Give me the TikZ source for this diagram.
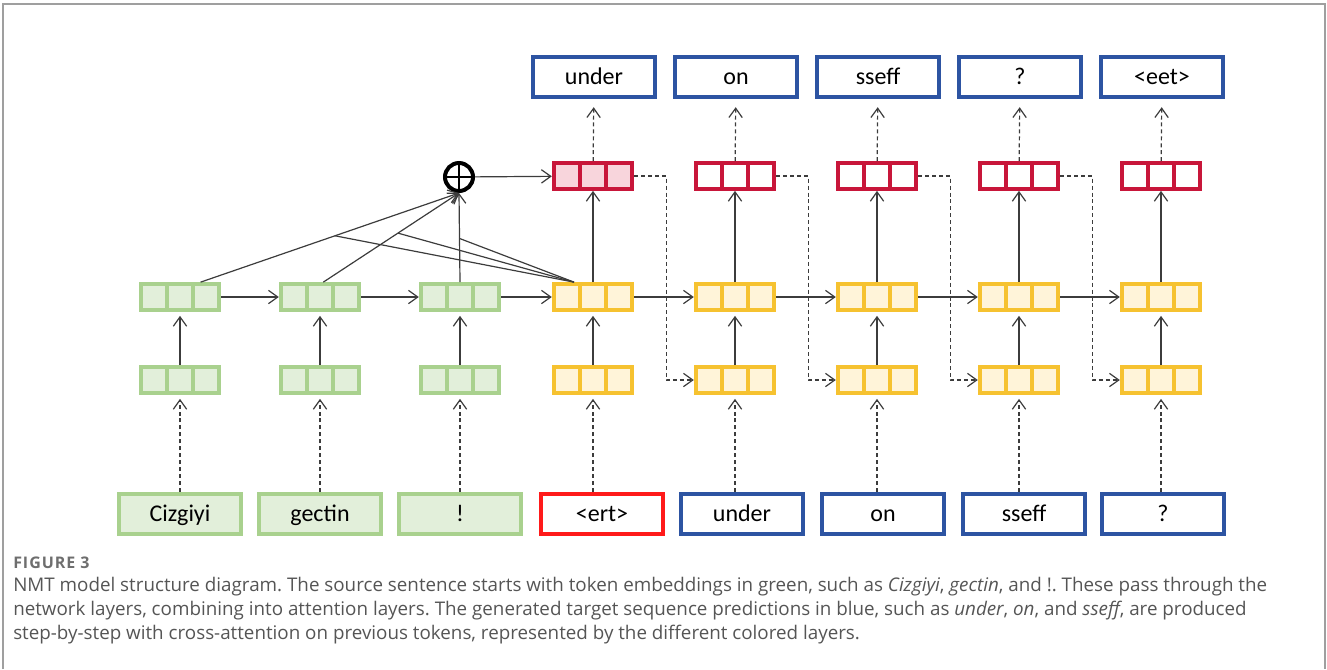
\documentclass[tikz,border=0pt]{standalone}
\usepackage{fontspec}
\setmainfont{Carlito}
\newfontfamily\capfont{Open Sans}
\newfontfamily\figfont[LetterSpace=6]{Open Sans}
\usetikzlibrary{arrows.meta,calc}

\definecolor{encgreen}{HTML}{A9D18E}
\definecolor{encfill}{HTML}{E2EFDA}
\definecolor{decgold}{HTML}{F6C230}
\definecolor{decfill}{HTML}{FFF4D9}
\definecolor{attred}{HTML}{C8163A}
\definecolor{attfill}{HTML}{F8D5DC}
\definecolor{outblue}{HTML}{2D54A2}
\definecolor{startred}{HTML}{FF1A1A}
\definecolor{linegray}{HTML}{3C3C3C}
\definecolor{capgray}{HTML}{555555}

\frenchspacing
\tikzset{
  >={Straight Barb[length=7pt,width=10pt]},
  cells/.style={path picture={
    \foreach \k in {1,2}
      \draw[#1, line width=2.6pt]
        ($(path picture bounding box.south west)!\k/3!(path picture bounding box.south east)$) --
        ($(path picture bounding box.north west)!\k/3!(path picture bounding box.north east)$);}},
  layer/.style={draw=#1, line width=2.8pt, minimum width=59pt, minimum height=19.5pt, inner sep=0pt, cells=#1},
  enc/.style={layer=encgreen, fill=encfill},
  dec/.style={layer=decgold, fill=decfill},
  att/.style={layer=attred},
  tok/.style={draw, line width=2.8pt, minimum width=92pt, minimum height=30.5pt, inner sep=0pt,
    text height=12pt, text depth=1.5pt, font=\fontsize{18}{20}\selectfont},
  src/.style={tok, draw=encgreen, fill=encfill},
  tgt/.style={tok, draw=outblue, fill=white},
  sum/.style={draw, circle, line width=3pt, minimum size=21pt, inner sep=0pt, path picture={
    \draw[line width=0.8pt] (path picture bounding box.north) -- (path picture bounding box.south)
      (path picture bounding box.west) -- (path picture bounding box.east);}},
  link/.style={->, draw=linegray, line width=0.9pt},
  hop/.style={link, dash pattern=on 3pt off 2.2pt},
  capline/.style={anchor=base west, inner sep=0pt, text=capgray, font=\capfont\fontsize{14.1}{17}\selectfont}
}

\begin{document}
\begin{tikzpicture}[x=0.75pt, y=-0.75pt]
\useasboundingbox (0,0) rectangle (1327,669);
\draw[gray!75, line width=1pt] (3,669) -- (3,4) -- (1325,4) -- (1325,669);

% source side
\foreach \i/\x/\w in {1/180/Cizgiyi, 2/320/gectin, 3/460/!} {
  \node[src] (in\i) at (\x,514) {\w};
  \node[enc] (emb\i) at (\x,380) {};
  \node[enc] (enc\i) at (\x,297) {};
  \draw[hop, shorten >=3pt] (in\i) -- (emb\i);
  \draw[link, shorten >=3pt] (emb\i) -- (enc\i);
}
\draw[link] (enc1) -- (enc2);
\draw[link] (enc2) -- (enc3);

% target side
\node[tok, draw=startred] (in4) at (602,514) {<ert>};
\foreach \i/\x/\w in {5/742/under, 6/883/on, 7/1024/sseff, 8/1163/?}
  \node[tgt] (in\i) at (\x,514) {\w};

\foreach \i/\j/\x/\w/\f in {1/4/593/under/attfill, 2/5/735/on/white, 3/6/877/sseff/white, 4/7/1019/?/white, 5/8/1161/<eet>/white} {
  \node[dec] (demb\i) at (\x,380) {};
  \node[dec] (dec\i) at (\x,297) {};
  \node[att, fill=\f] (att\i) at (\x,176) {};
  \node[tgt] (out\i) at (\x+1,77) {\w};
  \draw[hop, shorten >=3pt] (in\j.north -| demb\i) -- (demb\i);
  \draw[link, shorten >=3pt] (demb\i) -- (dec\i);
  \draw[link] (dec\i) -- (att\i);
  \draw[hop, shorten >=6pt] (att\i) -- (out\i);
}
\draw[link] (enc3) -- (dec1);
\foreach \i [count=\j from 2] in {1,...,4} {
  \draw[link] (dec\i) -- (dec\j);
  \draw[hop] (att\i.east) -- ++(32,0) |- (demb\j.west);
}

% attention
\node[sum] (plus) at (459,177) {};
\coordinate (a1) at ($(enc1.north)!0.5!(enc1.north east)$);
\coordinate (a2) at ($(enc2.north)!0.08!(enc2.north east)$);
\coordinate (a3) at (enc3.north);
\coordinate (q) at ($(dec1.north west)!0.27!(dec1.north east)$);
\foreach \k/\t in {1/0.52, 2/0.55, 3/0.49} {
  \draw[link] (a\k) -- (plus.south);
  \draw[linegray, line width=0.9pt] (q) -- ($(a\k)!\t!(plus.south)$);
}
\draw[link] (plus) -- (att1);

% caption
\node[capline, text=capgray!85, font=\figfont\bfseries\fontsize{12}{14}\selectfont] (fig) at (13,568) {FIGURE 3};
\node[capline] (cap1) at (13,591) {NMT model structure diagram. The source sentence starts with token embeddings in green, such as \textit{Cizgiyi}, \textit{gectin}, and !. These pass through the};
\node[capline] (cap2) at (13,615) {network layers, combining into attention layers. The generated target sequence predictions in blue, such as \textit{under}, \textit{on}, and \textit{sseff}, are produced};
\node[capline] (cap3) at (13,639) {step-by-step with cross-attention on previous tokens, represented by the different colored layers.};
\end{tikzpicture}
\end{document}
